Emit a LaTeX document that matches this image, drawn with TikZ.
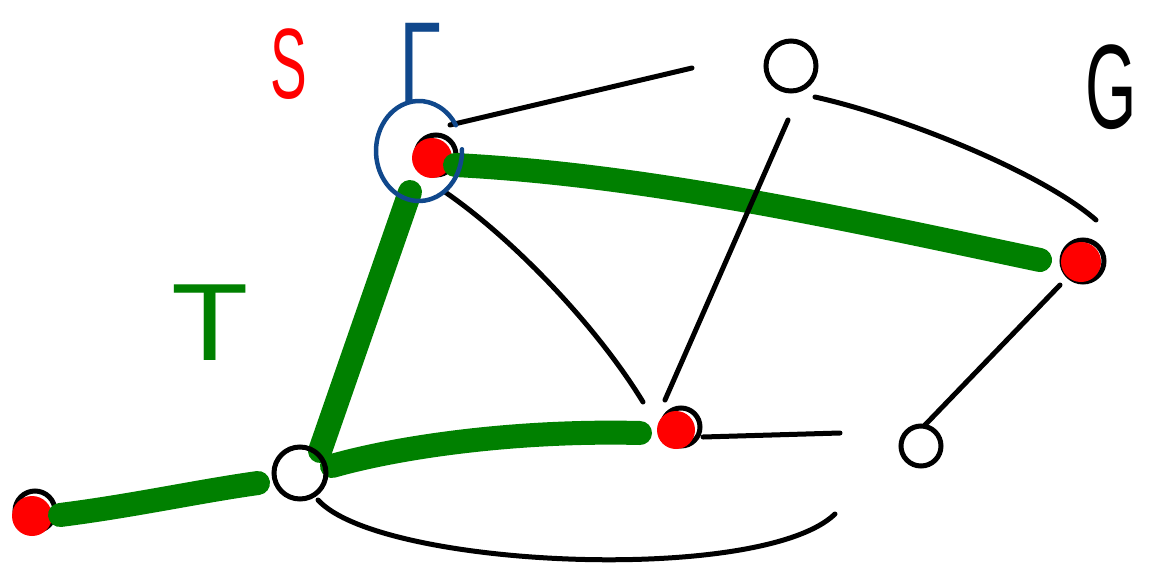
\documentclass[tikz,border=0pt]{standalone}
\usepackage{fontspec}
\setmainfont{Liberation Sans}
\usetikzlibrary{calc}
\definecolor{penblue}{RGB}{16,72,140}
\definecolor{pengreen}{RGB}{0,128,0}
\pgfdeclarelayer{back}
\pgfdeclarelayer{mid}
\pgfsetlayers{back,mid,main}
\begin{document}
\begin{tikzpicture}[x=1pt,y=-1pt,
  edge/.style={draw=black, line width=5pt, line cap=round, line join=round},
  greenedge/.style={draw=pengreen, line width=24pt, line cap=round, line join=round},
  opennode/.style={circle, draw=black, line width=5pt, inner sep=0pt},
  rednode/.style={circle, fill=red, inner sep=0pt, minimum size=40pt},
  ring/.style={draw=black, line width=5pt},
  bluepen/.style={draw=penblue, line width=4.5pt, line cap=round},
  lbl/.style={inner sep=0pt}]
\useasboundingbox (0,0) rectangle (1160,568);
% positions of the filled nodes
\coordinate (pS) at (432,158);
\coordinate (pL) at (32,516);
\coordinate (pR) at (676,430);
\coordinate (pG) at (1081,262);
\begin{pgfonlayer}{back}
  \draw[ring] ($(pS)+(4,-3)$) circle[radius=20];
  \draw[ring] ($(pL)+(3,-5)$) circle[radius=20];
  \draw[ring] ($(pR)+(5,-3)$) circle[radius=19];
  \draw[ring] ($(pG)+(2,-1)$) circle[radius=21];
  \node[rednode] (S) at (pS) {};
  \node[rednode] (L) at (pL) {};
  \node[rednode, minimum size=38pt] (R) at (pR) {};
  \node[rednode] (G) at (pG) {};
\end{pgfonlayer}
% open nodes
\node[opennode, minimum size=50pt] (A) at (791,66) {};
\node[opennode, minimum size=52pt] (B) at (300,473) {};
\node[opennode, minimum size=40pt] (C) at (921,446) {};
% green (thick) edges
\begin{pgfonlayer}{mid}
  \draw[greenedge] ($(S)+(23,7)$) .. controls ($(S)+(218,17)$) and ($(G)+(-231,-42)$) .. ($(G)+(-41,-2)$);
  \draw[greenedge] ($(S)+(-22,34)$) -- ($(B)+(20,-22)$);
  \draw[greenedge] ($(B)+(32,-7)$) .. controls ($(B)+(102,-27)$) and ($(R)+(-156,0)$) .. ($(R)+(-36,3)$);
  \draw[greenedge] ($(L)+(28,-1)$) .. controls ($(L)+(100,-10)$) and ($(B)+(-100,18)$) .. ($(B)+(-42,10)$);
\end{pgfonlayer}
% black edges
\draw[edge] ($(S)+(18,-33)$) -- ($(A)+(-99,2)$);
\draw[edge] ($(A)+(-3,54)$) -- ($(R)+(-11,-30)$);
\draw[edge] ($(A)+(24,31)$) .. controls ($(A)+(110,50)$) and ($(G)+(-40,-90)$) .. ($(G)+(15,-42)$);
\draw[edge] ($(S)+(13,34)$) .. controls ($(S)+(80,80)$) and ($(R)+(-80,-105)$) .. ($(R)+(-33,-28)$);
\draw[edge] ($(R)+(27,7)$) -- ($(C)+(-81,-13)$);
\draw[edge] ($(G)+(-21,23)$) -- ($(C)+(4,-21)$);
\draw[edge] ($(B)+(18,27)$) .. controls ($(B)+(80,95)$) and ($(C)+(-160,139)$) .. ($(C)+(-86,68)$);
% blue annotation circle round S
\draw[bluepen] ($(S)+(-13,-7)$) ++(-2:43 and 50) arc[start angle=-2, end angle=329, x radius=43, y radius=50];
% labels
\node[lbl, text=red] (labS) at (289,64) {\fontsize{100}{100}\selectfont\scalebox{0.55}[1]{S}};
\node[lbl, text=penblue] (labGamma) at (421,64) {\fontsize{118}{118}\selectfont\scalebox{0.65}[1]{Γ}};
\node[lbl, text=black] (labG) at (1111,87) {\fontsize{120}{120}\selectfont\scalebox{0.55}[1]{G}};
\node[lbl, text=pengreen] (labT) at (210,323) {\fontsize{110}{110}\selectfont\scalebox{1.15}[1]{T}};
\end{tikzpicture}
\end{document}
